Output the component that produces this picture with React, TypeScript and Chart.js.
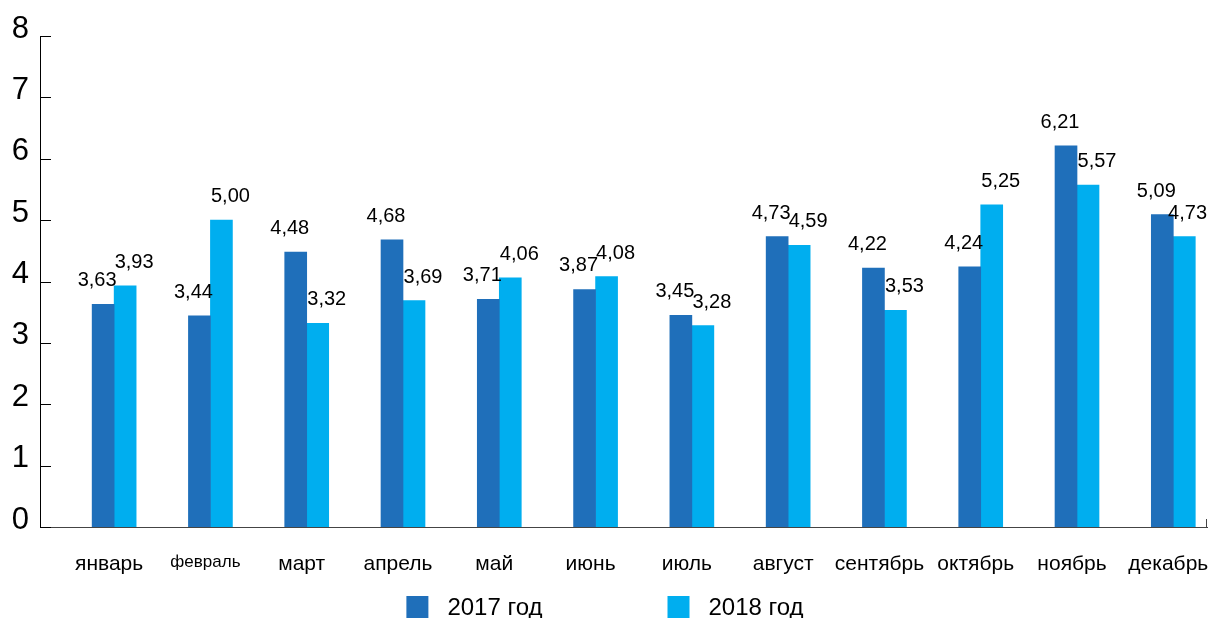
import React, { useEffect, useRef } from "react";
import { Chart, registerables } from "chart.js";

Chart.register(...registerables);

const months = [
  "январь", "февраль", "март", "апрель", "май", "июнь",
  "июль", "август", "сентябрь", "октябрь", "ноябрь", "декабрь",
];
const values2017 = [3.63, 3.44, 4.48, 4.68, 3.71, 3.87, 3.45, 4.73, 4.22, 4.24, 6.21, 5.09];
const values2018 = [3.93, 5.0, 3.32, 3.69, 4.06, 4.08, 3.28, 4.59, 3.53, 5.25, 5.57, 4.73];
const seriesLabels = ["2017 год", "2018 год"];
const yTicks = [0, 1, 2, 3, 4, 5, 6, 7, 8];

const FONT = "'Liberation Sans', Arial, sans-serif";
const DARK = "#1f6fba";
const LIGHT = "#00aeef";
const LABEL_SHIFT = [-6, 9];

const fmt = (v: number) => v.toFixed(2).replace(".", ",");

const decorPlugin = {
  id: "decor",
  afterDraw(chart: any) {
    const ctx = chart.ctx;
    const y = chart.scales.y;
    const area = chart.chartArea;
    ctx.save();
    // inside tick marks on y axis
    ctx.strokeStyle = "#000";
    ctx.lineWidth = 1;
    yTicks.forEach((t) => {
      const py = Math.round(y.getPixelForValue(t)) + 0.5;
      ctx.beginPath();
      ctx.moveTo(area.left, py);
      ctx.lineTo(area.left + 11, py);
      ctx.stroke();
    });
    // small end tick on x axis
    ctx.strokeStyle = "#444";
    ctx.beginPath();
    ctx.moveTo(area.right - 0.5, area.bottom);
    ctx.lineTo(area.right - 0.5, area.bottom - 8);
    ctx.stroke();
    // legend
    ctx.font = `24px ${FONT}`;
    ctx.textBaseline = "middle";
    ctx.textAlign = "left";
    const box = 22;
    const gapText = 19;
    const gapItems = 125;
    const ds = chart.data.datasets;
    const widths = ds.map((d: any) => box + gapText + ctx.measureText(d.label).width);
    const total = widths.reduce((a: number, b: number) => a + b, 0) + gapItems * (ds.length - 1);
    let x = chart.width / 2 - total / 2;
    const cy = 607;
    ds.forEach((d: any, i: number) => {
      ctx.fillStyle = d.backgroundColor;
      ctx.fillRect(x, cy - box / 2, box, box);
      ctx.fillStyle = "#000";
      ctx.fillText(d.label, x + box + gapText, cy + 1);
      x += widths[i] + gapItems;
    });
    ctx.restore();
  },
  afterDatasetsDraw(chart: any) {
    const ctx = chart.ctx;
    ctx.save();
    ctx.font = `20px ${FONT}`;
    ctx.fillStyle = "#000";
    ctx.textAlign = "center";
    ctx.textBaseline = "alphabetic";
    chart.data.datasets.forEach((d: any, di: number) => {
      const meta = chart.getDatasetMeta(di);
      meta.data.forEach((el: any, i: number) => {
        const text = fmt(d.data[i].y);
        const w = ctx.measureText(text).width;
        const x = Math.min(el.x + LABEL_SHIFT[di], chart.width - w / 2 - 3);
        ctx.fillText(text, x, el.y - 18);
      });
    });
    ctx.restore();
  },
};

export default function App() {
  const ref = useRef<HTMLCanvasElement | null>(null);
  useEffect(() => {
    if (!ref.current) return;
    const chart = new Chart(ref.current, {
      type: "bar",
      data: {
        datasets: [
          {
            label: seriesLabels[0],
            data: values2017.map((v, i) => ({ x: i, y: v })),
            backgroundColor: DARK,
            barThickness: 22,
          },
          {
            label: seriesLabels[1],
            data: values2018.map((v, i) => ({ x: i, y: v })),
            backgroundColor: LIGHT,
            barThickness: 22,
          },
        ],
      },
      options: {
        animation: false,
        responsive: false,
        maintainAspectRatio: false,
        layout: { padding: { top: 36, right: 3, left: 0, bottom: 0 } },
        plugins: {
          legend: { display: false },
          tooltip: { enabled: false },
        },
        scales: {
          x: {
            type: "linear",
            offset: false,
            min: -0.77,
            max: 11.35,
            afterBuildTicks: (scale: any) => {
              scale.ticks = months.map((_, i) => ({ value: i }));
            },
            afterFit: (scale: any) => {
              scale.height = 91;
              scale.paddingLeft = 0;
              scale.paddingRight = 0;
            },
            grid: { display: false, drawTicks: false },
            border: { display: true, color: "#444", width: 1 },
            ticks: {
              autoSkip: false,
              maxRotation: 0,
              padding: 25,
              labelOffset: -5,
              color: "#000",
              callback: (v: any) => months[v] ?? "",
              font: (ctx: any) => ({
                family: FONT,
                size: ctx.index === 1 ? 17 : 21,
              }),
            },
          },
          y: {
            min: 0,
            max: 8,
            afterBuildTicks: (scale: any) => {
              scale.ticks = yTicks.map((v) => ({ value: v }));
            },
            afterFit: (scale: any) => {
              scale.width = 40;
            },
            grid: { display: false, drawTicks: false },
            border: { display: true, color: "#000", width: 1 },
            ticks: {
              padding: 11,
              labelOffset: -7,
              color: "#000",
              font: { family: FONT, size: 31 },
            },
          },
        },
      },
      plugins: [decorPlugin],
    });
    return () => chart.destroy();
  }, []);
  return (
    <div style={{ position: "fixed", left: 0, top: 0, width: 1210, height: 618, background: "#fff" }}>
      <canvas ref={ref} width={1210} height={618} style={{ width: 1210, height: 618 }} />
    </div>
  );
}
